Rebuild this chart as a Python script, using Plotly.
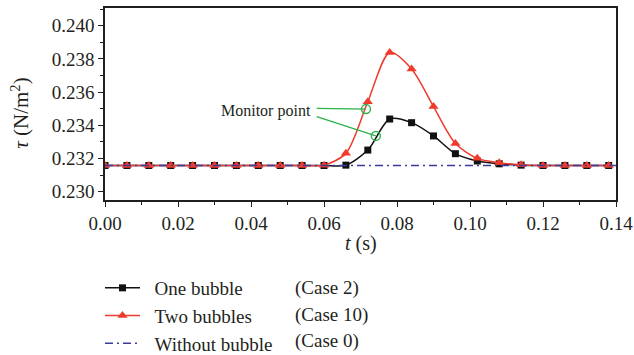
import plotly.graph_objects as go

# Sampling times (s)
t = [0.000, 0.006, 0.012, 0.018, 0.024, 0.030, 0.036, 0.042, 0.048, 0.054,
     0.060, 0.066, 0.072, 0.078, 0.084, 0.090, 0.096, 0.102, 0.108, 0.114,
     0.120, 0.126, 0.132, 0.138]

# Wall shear stress (N/m^2)
tau_one = [0.23158, 0.23158, 0.23158, 0.23158, 0.23158, 0.23158, 0.23158, 0.23158,
           0.23158, 0.23158, 0.23158, 0.23160, 0.23251, 0.23438, 0.23416, 0.23336,
           0.23229, 0.23185, 0.23168, 0.23160, 0.23158, 0.23158, 0.23158, 0.23158]
tau_two = [0.23158, 0.23158, 0.23158, 0.23158, 0.23158, 0.23158, 0.23158, 0.23158,
           0.23158, 0.23158, 0.23160, 0.23231, 0.23542, 0.23839, 0.23739, 0.23513,
           0.23291, 0.23201, 0.23175, 0.23162, 0.23158, 0.23158, 0.23158, 0.23158]
t_none = [0.000, 0.140]
tau_none = [0.23158, 0.23158]

# Monitor points on the two curves
monitor_t = [0.0715, 0.0742]
monitor_tau = [0.23498, 0.23336]
label_t = 0.0580
label_tau = [0.23502, 0.23452]

series_names = ["One bubble", "Two bubbles", "Without bubble"]
case_labels = ["(Case 2)", "(Case 10)", "(Case 0)"]

FONT = "Liberation Serif"
INK = "#231f20"
RED = "#ef3b2c"
BLUE = "#3b3b9e"
GREEN = "#2ab34a"
PAD = "\u2002"  # gap between legend glyph and text

fig = go.Figure()

fig.add_trace(go.Scatter(
    x=t, y=tau_one, name=PAD + series_names[0], mode="lines+markers",
    line=dict(color="#111111", width=1.5, shape="spline", smoothing=0.8),
    marker=dict(symbol="square", size=7, color="#111111"),
))
fig.add_trace(go.Scatter(
    x=t, y=tau_two, name=PAD + series_names[1], mode="lines+markers",
    line=dict(color=RED, width=1.5, shape="spline", smoothing=0.8),
    marker=dict(symbol="triangle-up", size=9, color=RED),
))
fig.add_trace(go.Scatter(
    x=t_none, y=tau_none, name=PAD + series_names[2], mode="lines",
    line=dict(color=BLUE, width=1.4, dash="8px,4px,2px,4px"),
))

# Leader lines from the label to the monitor points
for lt, mt, mtau in zip(label_tau, monitor_t, monitor_tau):
    fig.add_shape(type="line", xref="x", yref="y", x0=label_t, y0=lt, x1=mt, y1=mtau,
                  line=dict(color=GREEN, width=1.3))
fig.add_trace(go.Scatter(
    x=monitor_t, y=monitor_tau, mode="markers", showlegend=False,
    marker=dict(symbol="circle-open", size=9, color=GREEN, line=dict(width=1.4)),
))
fig.add_annotation(x=0.0570, y=0.23488, xref="x", yref="y", text="Monitor point",
                   showarrow=False, xanchor="right", yanchor="middle",
                   font=dict(family=FONT, size=16, color=INK))

# Case numbers aligned as a second legend column
case_rows = [-0.4583, -0.599, -0.734]
for lab, yr in zip(case_labels, case_rows):
    fig.add_annotation(x=0.3685, y=yr, xref="paper", yref="paper",
                       text=lab, showarrow=False, xanchor="left", yanchor="middle",
                       font=dict(family=FONT, size=19, color=INK))

# Axis titles
fig.add_annotation(x=-0.166, y=0.45, xref="paper", yref="paper",
                   text="<i>τ</i> (N/m<sup>2</sup>)", textangle=-90, showarrow=False,
                   xanchor="center", yanchor="middle",
                   font=dict(family=FONT, size=21, color=INK))
fig.add_annotation(x=0.5, y=-0.225, xref="paper", yref="paper",
                   text="<i>t</i> (s)", showarrow=False,
                   xanchor="center", yanchor="middle",
                   font=dict(family=FONT, size=20, color=INK))

axis_common = dict(
    showline=True, linecolor=INK, linewidth=1.6, mirror=True,
    ticks="outside", ticklen=5, tickwidth=1.4, tickcolor=INK,
    showgrid=False, zeroline=False,
    tickfont=dict(family=FONT, size=19, color=INK),
)

fig.update_xaxes(
    range=[0, 0.14], dtick=0.02, tick0=0, tickformat=".2f",
    minor=dict(dtick=0.01, ticks="outside", ticklen=3, tickwidth=1.2, tickcolor=INK),
    **axis_common,
)
fig.update_yaxes(
    range=[0.2295, 0.24107], dtick=0.002, tick0=0.230, tickformat=".3f",
    minor=dict(dtick=0.001, ticks="outside", ticklen=3, tickwidth=1.2, tickcolor=INK),
    **axis_common,
)

fig.update_layout(
    width=634, height=355,
    margin=dict(l=105, r=18, t=8, b=155, autoexpand=False),
    paper_bgcolor="white", plot_bgcolor="white",
    showlegend=True,
    legend=dict(xref="container", yref="container", x=0.1577, y=0.2423,
                xanchor="left", yanchor="top",
                font=dict(family=FONT, size=19, color=INK),
                bgcolor="rgba(0,0,0,0)", itemwidth=35),
)

fig.write_html("out.html")
